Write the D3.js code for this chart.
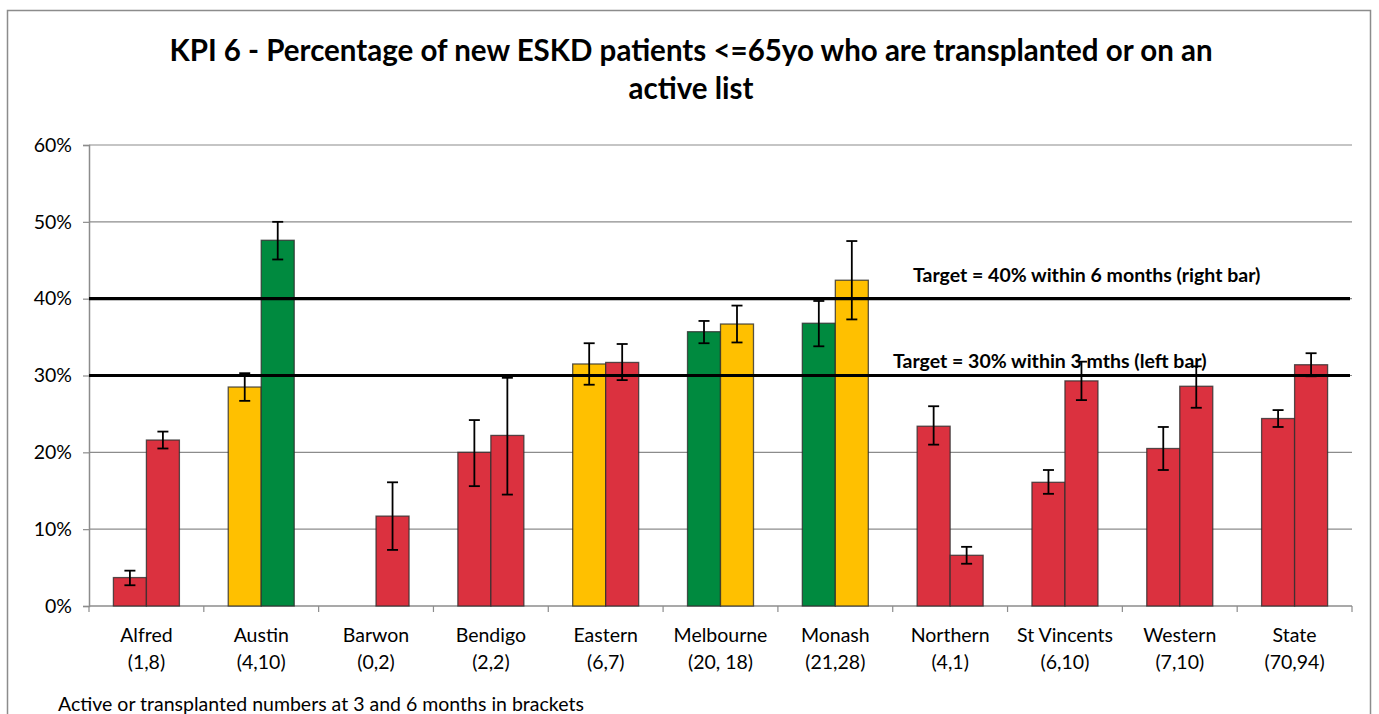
<!DOCTYPE html>
<html>
<head>
<meta charset="utf-8">
<script src="https://cdn.jsdelivr.net/npm/d3@7"></script>
<style>
  body { margin: 0; background: #fff; }
  svg text { font-family: Lato, "Open Sans", sans-serif; fill: #000; }
</style>
</head>
<body>
<div id="chart"></div>
<script>
// units & categories
var categories = ["Alfred", "Austin", "Barwon", "Bendigo", "Eastern", "Melbourne", "Monash", "Northern", "St Vincents", "Western", "State"];
var counts = ["(1,8)", "(4,10)", "(0,2)", "(2,2)", "(6,7)", "(20, 18)", "(21,28)", "(4,1)", "(6,10)", "(7,10)", "(70,94)"];

// left bar = 3 months, right bar = 6 months (percent)
var left3m = [3.7, 28.5, null, 20.0, 31.5, 35.7, 36.8, 23.4, 16.1, 20.5, 24.4];
var left3mLow = [2.7, 26.7, null, 15.6, 28.8, 34.2, 33.8, 21.0, 14.6, 17.7, 23.3];
var left3mHigh = [4.6, 30.3, null, 24.2, 34.2, 37.1, 39.7, 26.0, 17.7, 23.3, 25.5];
var left3mStatus = ["red", "amber", null, "red", "amber", "green", "green", "red", "red", "red", "red"];

var right6m = [21.6, 47.6, 11.7, 22.2, 31.7, 36.7, 42.4, 6.6, 29.3, 28.6, 31.4];
var right6mLow = [20.5, 45.1, 7.3, 14.5, 29.4, 34.3, 37.3, 5.5, 26.8, 25.8, 29.9];
var right6mHigh = [22.7, 50.0, 16.1, 29.7, 34.1, 39.1, 47.5, 7.7, 31.8, 31.2, 32.9];
var right6mStatus = ["red", "green", "red", "red", "red", "amber", "amber", "red", "red", "red", "red"];

var yTicks = [0, 10, 20, 30, 40, 50, 60];
var targetValues = [40, 30];
var targetLabels = ["Target = 40% within 6 months (right bar)", "Target = 30% within 3 mths (left bar)"];

var statusColors = { red: "#DB313F", amber: "#FFC000", green: "#008A3F" };

var svgWidth = 1379;
var svgHeight = 714;

var margin = { top: 145, right: 27, bottom: 108, left: 89 };
var width = svgWidth - margin.left - margin.right;
var height = svgHeight - margin.top - margin.bottom;

var svg = d3.select("#chart")
  .append("svg")
  .attr("width", svgWidth)
  .attr("height", svgHeight);

// outer chart frame
svg.append("rect")
  .attr("x", 7.5)
  .attr("y", 10.5)
  .attr("width", 1363)
  .attr("height", 720)
  .attr("fill", "none")
  .attr("stroke", "#8c8c8c")
  .attr("stroke-width", 1.5);

// title
var title = svg.append("text")
  .attr("text-anchor", "middle")
  .attr("font-weight", "bold")
  .attr("font-size", "29.5px");
title.append("tspan").attr("x", 691).attr("y", 61)
  .text("KPI 6 - Percentage of new ESKD patients <=65yo who are transplanted or on an");
title.append("tspan").attr("x", 691).attr("y", 99)
  .text("active list");

var chartGroup = svg.append("g")
  .attr("transform", `translate(${margin.left}, ${margin.top})`);

var x = d3.scaleBand()
  .domain(categories)
  .range([0, width]);

var xSub = d3.scaleBand()
  .domain(["left", "right"])
  .range([0, x.bandwidth()])
  .paddingOuter(0.74);

var y = d3.scaleLinear()
  .domain([0, 60])
  .range([height, 0]);

// gridlines
chartGroup.append("g")
  .selectAll("line")
  .data(yTicks.slice(1))
  .enter()
  .append("line")
  .attr("x1", 0)
  .attr("x2", width)
  .attr("y1", d => y(d))
  .attr("y2", d => y(d))
  .attr("stroke", "#8c8c8c")
  .attr("stroke-width", 1.2);

// y axis
var leftAxis = d3.axisLeft(y)
  .tickValues(yTicks)
  .tickFormat(d => d + "%")
  .tickSize(6)
  .tickPadding(11);
var yAxis = chartGroup.append("g").call(leftAxis);
yAxis.select(".domain").attr("stroke", "#8c8c8c").attr("stroke-width", 1.5);
yAxis.selectAll(".tick line").attr("stroke", "#8c8c8c").attr("stroke-width", 1.2);
yAxis.selectAll(".tick text")
  .attr("font-size", "19.5px")
  .attr("font-family", "Lato, sans-serif")
  .attr("fill", "#000");

// x axis line + ticks at category boundaries
chartGroup.append("line")
  .attr("x1", 0).attr("x2", width)
  .attr("y1", height).attr("y2", height)
  .attr("stroke", "#8c8c8c").attr("stroke-width", 1.5);

var boundaries = categories.map(c => x(c)).concat([width]);
chartGroup.append("g")
  .selectAll("line")
  .data(boundaries)
  .enter()
  .append("line")
  .attr("x1", d => d).attr("x2", d => d)
  .attr("y1", height).attr("y2", height + 6)
  .attr("stroke", "#8c8c8c").attr("stroke-width", 1.2);

// x labels
var xLabels = chartGroup.append("g")
  .selectAll("text")
  .data(categories)
  .enter()
  .append("text")
  .attr("text-anchor", "middle")
  .attr("font-size", "19.5px");
xLabels.append("tspan")
  .attr("x", d => x(d) + x.bandwidth() / 2)
  .attr("y", height + 36)
  .text(d => d);
xLabels.append("tspan")
  .attr("x", d => x(d) + x.bandwidth() / 2)
  .attr("y", height + 63)
  .text((d, i) => counts[i]);

// build bar records
var barData = [];
categories.forEach(function(c, i) {
  if (left3m[i] !== null) {
    barData.push({ cat: c, side: "left", value: left3m[i], low: left3mLow[i], high: left3mHigh[i], status: left3mStatus[i] });
  }
  barData.push({ cat: c, side: "right", value: right6m[i], low: right6mLow[i], high: right6mHigh[i], status: right6mStatus[i] });
});

// bars
chartGroup.append("g")
  .selectAll("rect")
  .data(barData)
  .enter()
  .append("rect")
  .attr("x", d => x(d.cat) + xSub(d.side))
  .attr("y", d => y(d.value))
  .attr("width", xSub.bandwidth())
  .attr("height", d => height - y(d.value))
  .attr("fill", d => statusColors[d.status])
  .attr("stroke", "#2e2e2e")
  .attr("stroke-opacity", 0.8)
  .attr("stroke-width", 1.3);

// target lines
chartGroup.append("g")
  .selectAll("line")
  .data(targetValues)
  .enter()
  .append("line")
  .attr("x1", 0)
  .attr("x2", width - 2)
  .attr("y1", d => y(d))
  .attr("y2", d => y(d))
  .attr("stroke", "#000")
  .attr("stroke-width", 3.2);

// error bars
var errGroup = chartGroup.append("g")
  .selectAll("g")
  .data(barData)
  .enter()
  .append("g")
  .attr("transform", d => `translate(${x(d.cat) + xSub(d.side) + xSub.bandwidth() / 2}, 0)`)
  .attr("stroke", "#000")
  .attr("stroke-width", 1.8);
errGroup.append("line")
  .attr("x1", 0).attr("x2", 0)
  .attr("y1", d => y(d.high)).attr("y2", d => y(d.low));
errGroup.append("line")
  .attr("x1", -5.5).attr("x2", 5.5)
  .attr("y1", d => y(d.high)).attr("y2", d => y(d.high));
errGroup.append("line")
  .attr("x1", -5.5).attr("x2", 5.5)
  .attr("y1", d => y(d.low)).attr("y2", d => y(d.low));

// target labels
chartGroup.append("g")
  .selectAll("text")
  .data(targetLabels)
  .enter()
  .append("text")
  .attr("x", (d, i) => i === 0 ? 824 : 804)
  .attr("y", (d, i) => y(targetValues[i]) - 17 + (i === 0 ? 0 : 9))
  .attr("font-weight", "bold")
  .attr("font-size", "19.5px")
  .text(d => d);

// footnote
svg.append("text")
  .attr("x", 58)
  .attr("y", 711)
  .attr("font-size", "19.5px")
  .text("Active or transplanted numbers at 3 and 6 months in brackets");
</script>
</body>
</html>
